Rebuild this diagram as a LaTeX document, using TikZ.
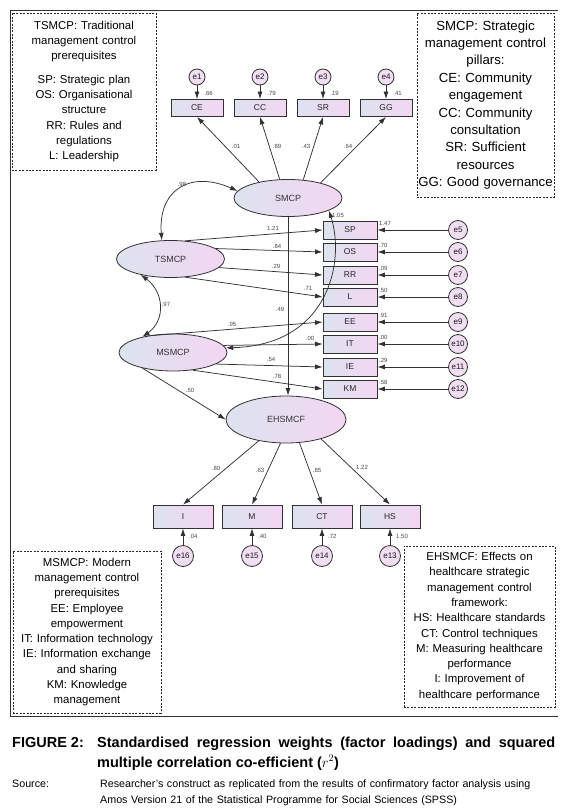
\documentclass[tikz,border=0pt]{standalone}
\usepackage{fontspec}
\setmainfont{Liberation Sans}
\usetikzlibrary{shapes.geometric, arrows.meta}

\definecolor{boxblue}{RGB}{221,227,238}
\definecolor{boxpink}{RGB}{243,214,243}
\definecolor{errpink}{RGB}{241,222,243}
\definecolor{linegray}{RGB}{50,50,50}
\definecolor{valgray}{RGB}{70,70,70}

\begin{document}
\begin{tikzpicture}[
    x=1pt, y=-1pt,
    latent/.style={ellipse, draw=linegray, line width=0.8pt, left color=boxblue, right color=boxpink, minimum width=108pt, minimum height=37pt, inner sep=0pt, font=\fontsize{9}{10}\selectfont, text=black!80},
    ind/.style={rectangle, draw=linegray, line width=0.8pt, left color=boxblue, right color=boxpink, minimum width=54pt, minimum height=18pt, inner sep=0pt, font=\fontsize{8.5}{10}\selectfont, text=black!85},
    err/.style={circle, draw=linegray, line width=0.8pt, fill=errpink, minimum size=19pt, inner sep=0pt, font=\fontsize{8}{9}\selectfont, text=black!90},
    load/.style={-{Latex[length=7.5pt, width=5pt]}, line width=0.75pt, draw=linegray},
    cov/.style={{Latex[length=7.5pt, width=5pt]}-{Latex[length=7.5pt, width=5pt]}, line width=0.75pt, draw=linegray},
    val/.style={font=\fontsize{6}{7}\selectfont, text=valgray, inner sep=0pt},
    note/.style={draw=black!85, dash pattern=on 2pt off 1.4pt, line width=0.6pt, align=center, inner sep=0pt, font=\fontsize{11.4}{15.3}\selectfont}
]
    \useasboundingbox (0,0) rectangle (580,808);

    % --- FRAME ---
    \draw[linegray, line width=0.9pt] (558,10) -- (10,10) -- (10,716) -- (558,716);

    % --- LATENT VARIABLES ---
    \node[latent] (SMCP) at (288,198) {SMCP};
    \node[latent] (TSMCP) at (170.5,259) {TSMCP};
    \node[latent] (MSMCP) at (173,352.5) {MSMCP};
    \node[latent, minimum width=120pt, minimum height=47pt] (EHSMCF) at (286,419.5) {EHSMCF};

    % --- SMCP: top indicators ---
    \foreach \lbl/\x/\enode/\rsq/\ang/\w/\wx in {CE/197/e1/.66/151/.01/236, CC/260/e2/.79/114/.89/277, SR/323/e3/.19/50/.43/306, GG/386/e4/.41/25/.64/348} {
        \node[ind, minimum width=52pt, minimum height=17pt] (\lbl) at (\x,108) {\lbl};
        \node[err, minimum size=16pt] (\enode) at (\x,77) {\enode};
        \draw[load] (\enode) -- (\lbl);
        \node[val] at (\x+11.5,93) {\rsq};
        \draw[load] (SMCP.\ang) -- (\lbl.south);
        \node[val] at (\wx,146) {\w};
    }

    % --- TSMCP: right indicators ---
    \foreach \lbl/\y/\enode/\rsq/\ang/\w/\wx/\wy in {SP/230/e5/1.47/51/1.21/273/228, OS/252/e6/.70/13/.84/277/246, RR/275/e7/.09/350/.29/276/266, L/297/e8/.50/309/.71/308/288} {
        \node[ind] (\lbl) at (350,\y) {\lbl};
        \node[err] (\enode) at (458,\y) {\enode};
        \draw[load] (\enode) -- (\lbl);
        \node[val, anchor=west] at (379,\y-7) {\rsq};
        \draw[load] (TSMCP.\ang) -- (\lbl.west);
        \node[val] at (\wx,\wy) {\w};
    }

    % --- MSMCP: right indicators ---
    \foreach \lbl/\y/\enode/\rsq/\ang/\w/\wx/\wy in {EE/322/e9/.91/148/.95/232/324, IT/344/e10/.00/8/.00/310/338, IE/367/e11/.29/345/.54/271/359, KM/389/e12/.58/318/.78/277/376} {
        \node[ind] (\lbl) at (350,\y) {\lbl};
        \node[err] (\enode) at (458,\y) {\enode};
        \draw[load] (\enode) -- (\lbl);
        \node[val, anchor=west] at (379,\y-7) {\rsq};
        \draw[load] (MSMCP.\ang) -- (\lbl.west);
        \node[val] at (\wx,\wy) {\w};
    }

    % --- EHSMCF: bottom indicators ---
    \foreach \lbl/\x/\enode/\rsq/\ang/\w/\wx/\wy in {I/183/e16/.04/218/.80/216/468, M/252/e15/.40/257/.63/260/470, CT/322/e14/.72/300/.85/317/470, HS/390/e13/1.50/331/1.22/362/467} {
        \node[ind, minimum width=60pt, minimum height=23pt] (\lbl) at (\x,516.5) {\lbl};
        \node[err, minimum size=21pt] (\enode) at (\x,556) {\enode};
        \draw[load] (\enode) -- (\lbl);
        \node[val, anchor=west] at (\x+6,536) {\rsq};
        \draw[load] (EHSMCF.\ang) -- (\lbl.north);
        \node[val] at (\wx,\wy) {\w};
    }

    % --- STRUCTURAL PATHS ---
    \draw[load] (SMCP.south) -- (SMCP.south |- EHSMCF.north);
    \node[val] at (280,309) {.49};
    \draw[load] (MSMCP.207) -- (EHSMCF.west);
    \node[val] at (190,390) {.50};

    % --- COVARIANCES ---
    \draw[cov] (TSMCP.115) .. controls (158,190) and (190,170) .. (SMCP.172);
    \node[val] at (182,184) {.98};
    \draw[cov] (TSMCP.208) .. controls (164,292) and (166,320) .. (MSMCP.153);
    \node[val] at (166,304) {.97};
    \draw[cov] (SMCP.343) .. controls (345,260) and (330,345) .. (MSMCP.5);
    \node[val] at (338,215) {1.05};

    % --- KEYS ---
    \node[note, minimum width=144pt, minimum height=157pt, text width=140pt] (tsmcpkey) at (84,91.5)
        {TSMCP: Traditional\\ management control\\ prerequisites\\[8pt] SP: Strategic plan\\ OS: Organisational\\ structure\\ RR: Rules and\\ regulations\\ L: Leadership};
    \node[note, font=\fontsize{13.2}{17.4}\selectfont, minimum width=137pt, minimum height=184pt, text width=135pt] (smcpkey) at (485.5,105)
        {SMCP: Strategic\\ management control\\ pillars:\\ CE: Community\\ engagement\\ CC: Community\\ consultation\\ SR: Sufficient\\ resources\\ GG: Good governance};
    \node[note, minimum width=148pt, minimum height=162pt, text width=146pt] (msmcpkey) at (87,632)
        {MSMCP: Modern\\ management control\\ prerequisites\\ EE: Employee\\ empowerment\\ IT: Information technology\\ IE: Information exchange\\ and sharing\\ KM: Knowledge\\ management};
    \node[note, minimum width=151pt, minimum height=161pt, text width=149pt] (ehsmcfkey) at (479.5,626.5)
        {EHSMCF: Effects on\\ healthcare strategic\\ management control\\ framework:\\ HS: Healthcare standards\\ CT: Control techniques\\ M: Measuring healthcare\\ performance\\ I: Improvement of\\ healthcare performance};

    % --- CAPTION ---
    \node[anchor=base west, inner sep=0pt, font=\bfseries\fontsize{14.5}{20}\selectfont] (figlabel) at (12,747) {FIGURE 2:};
    \node[anchor=base west, inner sep=0pt, text width=458pt, align=justify, font=\bfseries\fontsize{14.5}{20}\selectfont] (figtext) at (97,747)
        {Standardised regression weights (factor loadings) and squared multiple correlation co-efficient ($r^2$)};
    \node[anchor=base west, inner sep=0pt, font=\fontsize{10.7}{16}\selectfont] (srclabel) at (12,787) {Source:};
    \node[anchor=base west, inner sep=0pt, text width=462pt, align=left, font=\fontsize{10.7}{16}\selectfont] (srctext) at (100,787)
        {Researcher’s construct as replicated from the results of confirmatory factor analysis using\\ Amos Version 21 of the Statistical Programme for Social Sciences (SPSS)};
\end{tikzpicture}
\end{document}
